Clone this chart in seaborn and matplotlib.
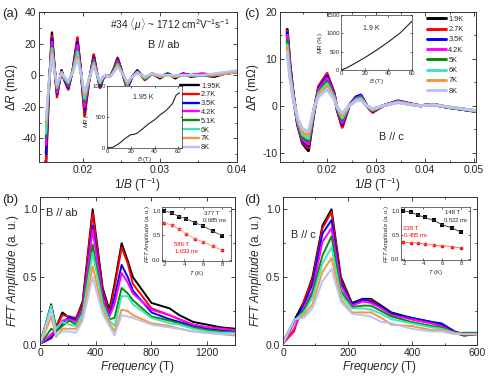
import pandas as pd
import seaborn as sns
import matplotlib.pyplot as plt
from matplotlib.ticker import AutoMinorLocator, FormatStrFormatter

# ---- data ----
temps_a = ["1.95K", "2.7K", "3.5K", "4.2K", "5.1K", "6K", "7K", "8K"]
temps_c = ["1.9K", "2.7K", "3.5K", "4.2K", "5K", "6K", "7K", "8K"]
colors = ["#000000", "#ff0000", "#0000ff", "#ff00ff", "#0a8a0a",
          "#3ce6b4", "#f5963f", "#b6c3f6"]

# (a) dR vs 1/B, B // ab
inv_b_a = [0.01520, 0.01560, 0.01598, 0.01630, 0.01664, 0.01695, 0.01722, 0.01760,
           0.01810, 0.01870, 0.01929, 0.01975, 0.02022, 0.02080, 0.02141, 0.02180,
           0.02221, 0.02265, 0.02309, 0.02350, 0.02400, 0.02451, 0.02515, 0.02575,
           0.02640, 0.02707, 0.02804, 0.02900, 0.03000, 0.03100, 0.03200, 0.03300,
           0.03400, 0.03550, 0.03700, 0.03850, 0.04000]
dr_a = [
    [-58, -8, 27, 6, -11, -4, 3, -3, -9, 4, 23, 2, -24, -4, 13, 2, -8, -2, 0, -1, 4, 11, 1, -9, -1, 3, -3, 1, -2, 1, -2, 1, -1, 0, -1, 1, 2],
    [-56, -8, 25, 5, -14, -5, 3, -3, -9, 4, 24, 2, -26, -4, 13, 2, -8, -2, 0, -1, 4, 11, 1, -9, -1, 3, -3, 1, -1, 1, -1, 1, 0, 1, 0, 1, 2],
    [-50, -7, 23, 5, -12, -4, 3, -3, -8, 3, 21, 2, -22, -3, 11, 2, -7, -2, 0, -1, 3, 10, 1, -8, -1, 3, -2, 1, -1, 1, -1, 1, 0, 0, 0, 1, 2],
    [-44, -6, 21, 5, -11, -4, 2, -2, -7, 3, 19, 2, -20, -3, 10, 2, -6, -2, 0, -1, 3, 9, 1, -7, -1, 2, -2, 1, -1, 1, -1, 1, 0, 1, 0, 1, 2],
    [-40, -5, 18, 4, -9, -3, 2, -2, -6, 3, 16, 1, -17, -3, 9, 1, -6, -1, 0, -1, 3, 8, 1, -6, -1, 2, -2, 1, -1, 1, -1, 0, 0, 0, 0, 1, 2],
    [-37, -5, 17, 4, -8, -3, 2, -2, -5, 3, 15, 1, -15, -3, 8, 1, -5, -1, 0, -1, 2, 7, 1, -6, -1, 2, -2, 1, -1, 0, -1, 0, 0, 0, 0, 1, 2],
    [-30, -4, 15, 3, -7, -2, 2, -2, -4, 2, 12, 1, -13, -2, 7, 1, -4, -1, 0, -1, 2, 6, 1, -5, -1, 2, -1, 1, -1, 0, -1, 0, 0, 0, 0, 1, 2],
    [-28, -4, 13, 3, -6, -2, 1, -1, -4, 2, 10, 1, -11, -2, 6, 1, -4, -1, 0, -1, 2, 5, 1, -4, -1, 1, -1, 1, 0, 0, 0, 0, 0, 0, 1, 2, 3],
]
b_mr_a = [0, 5, 10, 15, 20, 22, 25, 30, 35, 40, 45, 50, 55, 58, 61]
mr_a = [0, 12, 70, 150, 215, 218, 235, 310, 390, 455, 540, 610, 715, 850, 890]

# (c) dR vs 1/B, B // c
inv_b_c = [0.01186, 0.0124, 0.0131, 0.0140, 0.0150, 0.0162, 0.0174, 0.0183, 0.0200,
           0.0214, 0.0221, 0.0231, 0.0245, 0.0259, 0.0269, 0.0281, 0.0293, 0.0314,
           0.0345, 0.0369, 0.0390, 0.0417, 0.0445, 0.0479, 0.0505]
dr_c = [
    [16.3, 9.0, 2.5, -4.0, -8.0, -9.6, -1.0, 4.0, 6.5, 2.7, -1.0, -4.4, 0, 1.8, 2.2, 0, -1.3, 0, 1.0, 0.4, 0, 0.3, -0.3, -0.8, -1.2],
    [16.0, 9.0, 2.5, -4.0, -7.8, -9.0, -0.8, 4.2, 6.9, 2.9, -0.9, -4.6, 0, 1.8, 2.1, 0, -1.4, 0, 1.0, 0.5, 0, 0.3, -0.3, -0.8, -1.2],
    [15.5, 8.5, 2.0, -4.0, -7.5, -8.5, -0.7, 3.8, 6.3, 2.6, -0.8, -4.0, 0, 1.9, 2.3, 0, -1.2, 0, 1.0, 0.4, 0, 0.3, -0.3, -0.8, -1.2],
    [15.0, 8.0, 2.0, -3.8, -7.2, -8.2, -0.6, 3.5, 5.8, 2.4, -0.7, -3.6, 0, 1.6, 2.0, 0, -1.1, 0, 0.9, 0.4, 0, 0.2, -0.3, -0.7, -1.1],
    [14.0, 7.5, 2.0, -3.5, -6.8, -7.5, -0.5, 3.0, 5.2, 2.1, -0.6, -3.1, 0, 1.4, 1.8, 0, -1.0, 0, 0.8, 0.3, 0, 0.2, -0.3, -0.8, -1.2],
    [13.0, 7.0, 1.8, -3.2, -6.2, -7.0, -0.4, 2.7, 4.7, 1.9, -0.5, -2.6, 0, 1.3, 1.6, 0, -0.9, 0, 0.8, 0.3, 0, 0.2, -0.2, -0.7, -1.1],
    [12.5, 6.5, 1.5, -3.0, -5.7, -6.3, -0.3, 2.4, 4.1, 1.7, -0.4, -2.1, 0, 1.1, 1.4, 0, -0.8, 0, 0.7, 0.3, 0, 0.2, -0.2, -0.7, -1.1],
    [11.5, 6.0, 1.4, -2.6, -4.9, -5.5, -0.2, 2.0, 3.5, 1.4, -0.3, -1.6, 0, 1.0, 1.2, 0, -0.6, 0, 0.7, 0.3, 0, 0.2, -0.2, -0.7, -1.0],
]
b_mr_c = [0, 5, 10, 20, 30, 40, 50, 60]
mr_c = [0, 60, 150, 335, 540, 765, 1010, 1330]

# (b) FFT, B // ab
freq_b = [0, 40, 80, 115, 160, 210, 258, 306, 378, 450, 498, 535, 586, 630, 667,
          800, 930, 1000, 1100, 1200, 1300, 1400]
fft_b = [
    [0.02, 0.15, 0.30, 0.13, 0.24, 0.20, 0.19, 0.32, 1.00, 0.42, 0.26, 0.45, 0.75, 0.62, 0.50, 0.31, 0.27, 0.22, 0.17, 0.15, 0.13, 0.12],
    [0.01, 0.03, 0.06, 0.13, 0.22, 0.21, 0.20, 0.30, 0.97, 0.40, 0.24, 0.42, 0.72, 0.60, 0.45, 0.27, 0.22, 0.19, 0.15, 0.13, 0.12, 0.11],
    [0.01, 0.03, 0.05, 0.10, 0.16, 0.21, 0.18, 0.28, 0.88, 0.37, 0.22, 0.35, 0.59, 0.50, 0.40, 0.24, 0.19, 0.17, 0.14, 0.12, 0.11, 0.10],
    [0.01, 0.04, 0.08, 0.11, 0.18, 0.19, 0.17, 0.27, 0.85, 0.35, 0.21, 0.30, 0.53, 0.46, 0.38, 0.26, 0.22, 0.19, 0.15, 0.13, 0.12, 0.11],
    [0.01, 0.06, 0.12, 0.10, 0.14, 0.18, 0.15, 0.25, 0.74, 0.32, 0.19, 0.20, 0.42, 0.38, 0.33, 0.21, 0.18, 0.16, 0.13, 0.11, 0.10, 0.09],
    [0.01, 0.15, 0.29, 0.12, 0.17, 0.15, 0.14, 0.23, 0.68, 0.30, 0.18, 0.14, 0.36, 0.36, 0.30, 0.20, 0.16, 0.15, 0.12, 0.10, 0.09, 0.09],
    [0.01, 0.10, 0.21, 0.06, 0.12, 0.12, 0.12, 0.20, 0.58, 0.26, 0.16, 0.10, 0.26, 0.25, 0.22, 0.16, 0.14, 0.12, 0.10, 0.09, 0.08, 0.07],
    [0.01, 0.13, 0.26, 0.07, 0.10, 0.10, 0.09, 0.18, 0.50, 0.23, 0.14, 0.07, 0.22, 0.21, 0.20, 0.15, 0.13, 0.12, 0.10, 0.09, 0.08, 0.08],
]

# (d) FFT, B // c
freq_d = [0, 34, 65, 91, 122, 150, 179, 213, 247, 272, 304, 335, 397, 459, 490, 531, 560, 600]
fft_d = [
    [0.02, 0.18, 0.32, 0.50, 0.88, 1.00, 0.50, 0.31, 0.34, 0.34, 0.29, 0.24, 0.20, 0.17, 0.15, 0.09, 0.07, 0.08],
    [0.01, 0.10, 0.33, 0.48, 0.86, 0.98, 0.48, 0.30, 0.33, 0.33, 0.28, 0.23, 0.19, 0.16, 0.14, 0.09, 0.07, 0.08],
    [0.01, 0.17, 0.30, 0.45, 0.82, 0.92, 0.46, 0.30, 0.34, 0.32, 0.28, 0.23, 0.20, 0.17, 0.16, 0.10, 0.08, 0.08],
    [0.01, 0.12, 0.28, 0.40, 0.76, 0.86, 0.44, 0.29, 0.32, 0.31, 0.27, 0.22, 0.19, 0.16, 0.14, 0.09, 0.08, 0.08],
    [0.01, 0.17, 0.26, 0.38, 0.66, 0.80, 0.40, 0.28, 0.29, 0.29, 0.25, 0.21, 0.17, 0.14, 0.13, 0.09, 0.09, 0.09],
    [0.01, 0.18, 0.24, 0.35, 0.60, 0.72, 0.37, 0.27, 0.27, 0.26, 0.23, 0.19, 0.16, 0.13, 0.12, 0.09, 0.08, 0.08],
    [0.01, 0.18, 0.22, 0.30, 0.54, 0.64, 0.34, 0.24, 0.24, 0.24, 0.20, 0.15, 0.14, 0.11, 0.11, 0.09, 0.08, 0.08],
    [0.01, 0.19, 0.20, 0.27, 0.47, 0.56, 0.32, 0.23, 0.22, 0.21, 0.17, 0.16, 0.12, 0.10, 0.10, 0.08, 0.08, 0.08],
]

# insets: FFT amplitude vs T
t_k = [1.95, 2.7, 3.5, 4.2, 5.1, 6, 7, 8]
amp_b_377 = [1.0, 0.96, 0.88, 0.84, 0.76, 0.69, 0.58, 0.49]
amp_b_586 = [0.75, 0.71, 0.62, 0.53, 0.43, 0.36, 0.27, 0.19]
amp_d_148 = [1.0, 0.97, 0.91, 0.86, 0.80, 0.71, 0.64, 0.55]
amp_d_238 = [0.34, 0.33, 0.33, 0.30, 0.28, 0.27, 0.25, 0.22]

# ---- style ----
sns.set_style("ticks")
plt.rcParams["font.family"] = ["Liberation Sans", "DejaVu Sans"]
plt.rcParams["mathtext.fontset"] = "custom"
plt.rcParams["mathtext.rm"] = "Liberation Sans"
plt.rcParams["mathtext.it"] = "Liberation Sans:italic"
plt.rcParams["axes.unicode_minus"] = False
plt.rcParams["axes.linewidth"] = 0.7
plt.rcParams["axes.edgecolor"] = "#333333"


def to_long(x, series, labels, xname, yname):
    parts = [pd.DataFrame({xname: x, yname: ys, "T": lab}) for lab, ys in zip(labels, series)]
    return pd.concat(parts, ignore_index=True)


def style_main(ax):
    ax.xaxis.set_minor_locator(AutoMinorLocator(2))
    ax.yaxis.set_minor_locator(AutoMinorLocator(2))
    ax.tick_params(which="both", direction="in", top=True, right=True,
                   labelsize=7.5, pad=2, width=0.6)
    ax.tick_params(which="major", length=3)
    ax.tick_params(which="minor", length=1.7)


def style_inset(ax):
    ax.tick_params(which="both", direction="in", top=True, right=True,
                   labelsize=4.3, pad=1, length=1.5, width=0.5)
    for s in ax.spines.values():
        s.set_linewidth(0.5)


fig = plt.figure(figsize=(4.91, 3.76), dpi=100)
ax_a = fig.add_axes([0.0794, 0.5691, 0.4033, 0.3989])
ax_c = fig.add_axes([0.5703, 0.5691, 0.3992, 0.3989])
ax_b = fig.add_axes([0.0815, 0.0824, 0.3971, 0.3936])
ax_d = fig.add_axes([0.5764, 0.0824, 0.3951, 0.3936])

# (a)
df_a = to_long(inv_b_a, dr_a, temps_a, "invB", "dR")
sns.lineplot(data=df_a, x="invB", y="dR", hue="T", hue_order=temps_a,
             palette=colors, lw=1.7, ax=ax_a, estimator=None)
ax_a.set_xlim(0.0143, 0.04)
ax_a.set_ylim(-55, 40)
ax_a.set_xticks([0.02, 0.03, 0.04])
ax_a.set_yticks([-40, -20, 0, 20, 40])
ax_a.set_xlabel(r"1/$B$ (T$^{-1}$)", fontsize=8.5, labelpad=1)
ax_a.set_ylabel(r"$\Delta R$ (m$\Omega$)", fontsize=8.5, labelpad=1)
style_main(ax_a)
sns.move_legend(ax_a, "upper left", bbox_to_anchor=(0.71, 0.53), frameon=False,
                title=None, fontsize=5.3, handlelength=2.6, handletextpad=0.3,
                labelspacing=0.22, borderpad=0, borderaxespad=0)
ax_a.text(0.965, 0.915, r"#34 $\langle\mu\rangle$ ~ 1712 cm$^2$V$^{-1}$s$^{-1}$",
          transform=ax_a.transAxes, ha="right", va="center", fontsize=7.3)
ax_a.text(0.63, 0.78, "B // ab", transform=ax_a.transAxes, ha="center",
          va="center", fontsize=7.8)

ins_a = fig.add_axes([0.2179, 0.6064, 0.1527, 0.1649])
sns.lineplot(x=b_mr_a, y=mr_a, color="#222222", lw=0.8, ax=ins_a)
ins_a.set_xlim(0, 63)
ins_a.set_ylim(0, 1000)
ins_a.set_xticks([0, 20, 40, 60])
ins_a.set_yticks([0, 500, 1000])
ins_a.set_xlabel(r"$B$ (T)", fontsize=4.3, labelpad=0.5)
ins_a.set_ylabel(r"$MR$ (%)", fontsize=4.3, labelpad=0.5)
ins_a.text(0.48, 0.82, "1.95 K", transform=ins_a.transAxes, ha="center",
           va="center", fontsize=5)
style_inset(ins_a)

# (c)
df_c = to_long(inv_b_c, dr_c, temps_c, "invB", "dR")
sns.lineplot(data=df_c, x="invB", y="dR", hue="T", hue_order=temps_c,
             palette=colors, lw=2.1, ax=ax_c, estimator=None)
ax_c.set_xlim(0.0104, 0.0504)
ax_c.set_ylim(-12, 20)
ax_c.set_xticks([0.02, 0.03, 0.04, 0.05])
ax_c.set_yticks([-10, 0, 10, 20])
ax_c.set_xlabel(r"1/$B$ (T$^{-1}$)", fontsize=8.5, labelpad=1)
ax_c.set_ylabel(r"$\Delta R$ (m$\Omega$)", fontsize=8.5, labelpad=1)
style_main(ax_c)
sns.move_legend(ax_c, "upper left", bbox_to_anchor=(0.75, 0.975), frameon=False,
                title=None, fontsize=5.3, handlelength=2.6, handletextpad=0.3,
                labelspacing=0.42, borderpad=0, borderaxespad=0)
ax_c.text(0.57, 0.167, "B // c", transform=ax_c.transAxes, ha="center",
          va="center", fontsize=7.8)

ins_c = fig.add_axes([0.6945, 0.8138, 0.1446, 0.1463])
sns.lineplot(x=b_mr_c, y=mr_c, color="#222222", lw=0.8, ax=ins_c)
ins_c.set_xlim(0, 60)
ins_c.set_ylim(0, 1500)
ins_c.set_xticks([0, 20, 40, 60])
ins_c.set_yticks([0, 500, 1000, 1500])
ins_c.set_xlabel(r"$B$ (T)", fontsize=4.3, labelpad=0.5)
ins_c.set_ylabel(r"$MR$ (%)", fontsize=4.3, labelpad=0.5)
ins_c.text(0.43, 0.76, "1.9 K", transform=ins_c.transAxes, ha="center",
           va="center", fontsize=5)
style_inset(ins_c)

# (b)
df_b = to_long(freq_b, fft_b, temps_a, "f", "amp")
sns.lineplot(data=df_b, x="f", y="amp", hue="T", hue_order=temps_a,
             palette=colors, lw=1.4, ax=ax_b, estimator=None, legend=False)
ax_b.set_xlim(0, 1400)
ax_b.set_ylim(0, 1.09)
ax_b.set_xticks([0, 400, 800, 1200])
ax_b.set_yticks([0, 0.5, 1.0])
ax_b.yaxis.set_major_formatter(FormatStrFormatter("%.1f"))
ax_b.set_xlabel(r"$Frequency$ (T)", fontsize=8.5, labelpad=1)
ax_b.set_ylabel(r"$FFT\ Amplitude$ (a. u.)", fontsize=8.5, labelpad=1)
style_main(ax_b)
ax_b.text(0.03, 0.89, "B // ab", transform=ax_b.transAxes, ha="left",
          va="center", fontsize=7.8)

ins_b = fig.add_axes([0.3299, 0.3059, 0.1405, 0.1436])
ins_b.plot(t_k, amp_b_377, color="#666666", lw=0.7)
ins_b.plot(t_k, amp_b_586, color="#ff9090", lw=0.7)
sns.scatterplot(x=t_k, y=amp_b_377, color="black", marker="s", s=6,
                linewidth=0, ax=ins_b)
sns.scatterplot(x=t_k, y=amp_b_586, color="red", marker="o", s=7,
                linewidth=0, ax=ins_b)
ins_b.set_xlim(1.7, 8.9)
ins_b.set_ylim(-0.03, 1.08)
ins_b.set_xticks([2, 4, 6, 8])
ins_b.set_yticks([0, 0.5, 1.0])
ins_b.yaxis.set_major_formatter(FormatStrFormatter("%.1f"))
ins_b.set_xlabel(r"$T$ (K)", fontsize=4.3, labelpad=1.5)
ins_b.set_ylabel(r"$FFT\ Amplitude$ (a. u.)", fontsize=4.3, labelpad=0.5)
ins_b.text(6.1, 0.95, "377 T", fontsize=4.3, va="center")
ins_b.text(5.9, 0.81, "0.685 m$_0$", fontsize=4.3, va="center")
ins_b.text(3.0, 0.31, "586 T", fontsize=4.3, va="center", color="red")
ins_b.text(3.0, 0.17, "1.033 m$_0$", fontsize=4.3, va="center", color="red")
style_inset(ins_b)

# (d)
df_d = to_long(freq_d, fft_d, temps_c, "f", "amp")
sns.lineplot(data=df_d, x="f", y="amp", hue="T", hue_order=temps_c,
             palette=colors, lw=1.4, ax=ax_d, estimator=None, legend=False)
ax_d.set_xlim(0, 600)
ax_d.set_ylim(0, 1.09)
ax_d.set_xticks([0, 200, 400, 600])
ax_d.set_yticks([0, 0.5, 1.0])
ax_d.yaxis.set_major_formatter(FormatStrFormatter("%.1f"))
ax_d.set_xlabel(r"$Frequency$ (T)", fontsize=8.5, labelpad=1)
ax_d.set_ylabel(r"$FFT\ Amplitude$ (a. u.)", fontsize=8.5, labelpad=1)
style_main(ax_d)
ax_d.text(0.04, 0.745, "B // c", transform=ax_d.transAxes, ha="left",
          va="center", fontsize=7.8)

ins_d = fig.add_axes([0.8167, 0.3085, 0.1405, 0.1410])
ins_d.plot(t_k, amp_d_148, color="#444444", lw=0.7)
ins_d.plot(t_k, amp_d_238, color="#ff7070", lw=0.7)
sns.scatterplot(x=t_k, y=amp_d_148, color="black", marker="s", s=6,
                linewidth=0, ax=ins_d)
sns.scatterplot(x=t_k, y=amp_d_238, color="red", marker="o", s=7,
                linewidth=0, ax=ins_d)
ins_d.set_xlim(1.7, 8.9)
ins_d.set_ylim(-0.03, 1.08)
ins_d.set_xticks([2, 4, 6, 8])
ins_d.set_yticks([0, 0.5, 1.0])
ins_d.yaxis.set_major_formatter(FormatStrFormatter("%.1f"))
ins_d.set_xlabel(r"$T$ (K)", fontsize=4.3, labelpad=1.5)
ins_d.set_ylabel(r"$FFT\ Amplitude$ (a. u.)", fontsize=4.3, labelpad=0.5)
ins_d.text(6.3, 0.97, "148 T", fontsize=4.3, va="center")
ins_d.text(6.1, 0.80, "0.522 m$_0$", fontsize=4.3, va="center")
ins_d.text(1.9, 0.62, "238 T", fontsize=4.3, va="center", color="red")
ins_d.text(1.9, 0.49, "0.455 m$_0$", fontsize=4.3, va="center", color="red")
style_inset(ins_d)

# panel letters
for x, y, lab in [(0.004, 0.962, "(a)"), (0.497, 0.962, "(c)"),
                  (0.004, 0.468, "(b)"), (0.497, 0.468, "(d)")]:
    fig.text(x, y, lab, fontsize=9.5, va="center", ha="left")

fig.savefig("out.png", dpi=100)
